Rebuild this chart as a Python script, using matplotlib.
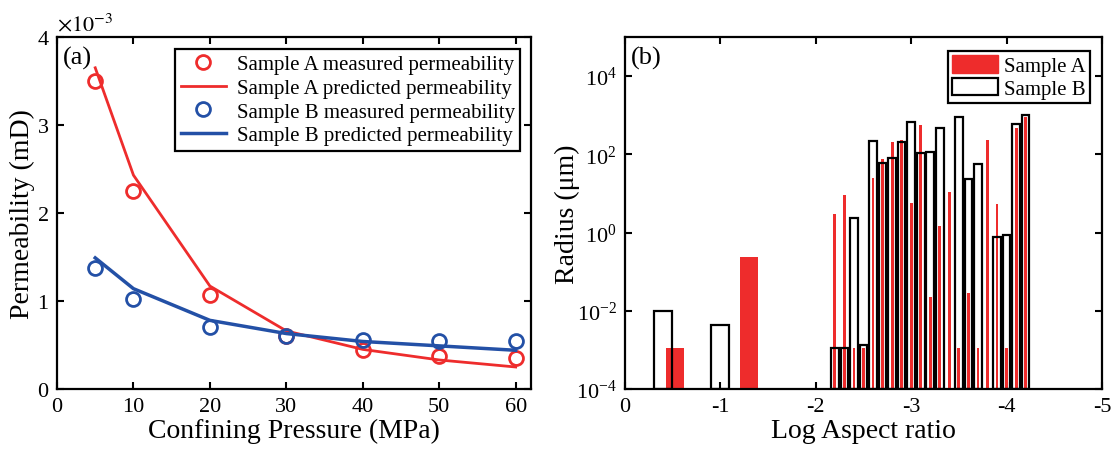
import numpy as np
import matplotlib
matplotlib.use("Agg")
import matplotlib.pyplot as plt
from matplotlib.patches import Patch
from matplotlib.ticker import FixedLocator, LogFormatterSciNotation, NullLocator

plt.rcParams['font.family'] = ['Liberation Serif', 'DejaVu Serif']
plt.rcParams['mathtext.fontset'] = 'stix'
plt.rcParams['axes.unicode_minus'] = False

# ---------------- data: panel (a) ----------------
pressure = [5, 10, 20, 30, 40, 50, 60]                       # MPa
a_measured = [3.50, 2.25, 1.07, 0.60, 0.44, 0.37, 0.35]       # x1e-3 mD
a_predicted = [3.65, 2.43, 1.17, 0.66, 0.45, 0.33, 0.25]
b_measured = [1.37, 1.02, 0.71, 0.60, 0.56, 0.54, 0.54]
b_predicted = [1.49, 1.14, 0.78, 0.63, 0.54, 0.49, 0.44]

# ---------------- data: panel (b) ----------------
# wide bars (small |log aspect ratio|)
a_wide_x = [-0.52, -1.30]
a_wide_r = [1e-3, 0.24]
b_wide_x = [-0.40, -1.00]
b_wide_r = [0.0096, 0.0042]
# narrow bars
a_x = [-2.2, -2.3, -2.4, -2.5, -2.6, -2.7, -2.8, -2.9, -3.0, -3.1, -3.2,
       -3.3, -3.4, -3.5, -3.6, -3.7, -3.8, -3.9, -4.0, -4.1, -4.2]
a_r = [2.9, 9.2, 1e-3, 1e-3, 24.6, 75, 205, 226, 5.6, 565, 0.023,
       1.48, 10.7, 1e-3, 0.028, 1e-3, 234, 5.4, 1e-3, 485, 875]
b_x = [-2.2, -2.3, -2.4, -2.5, -2.6, -2.7, -2.8, -2.9, -3.0, -3.1, -3.2,
       -3.3, -3.5, -3.6, -3.7, -3.9, -4.0, -4.1, -4.2]
b_r = [1e-3, 1e-3, 2.4, 1.2e-3, 214, 59, 80, 205, 665, 107, 115,
       466, 890, 23, 57, 0.79, 0.85, 590, 1020]

RED = '#EE2C2C'
BLUE = '#2350A6'

fig = plt.figure(figsize=(11.19, 4.60), dpi=100)
ax1 = fig.add_axes([57/1119, 1-390/460, (531-57)/1119, (390-38)/460])
ax2 = fig.add_axes([625/1119, 1-390/460, (1102-625)/1119, (390-38)/460])

TICK_FS = 16
LABEL_FS = 20
LEG_FS = 15

# ---------- panel (a) ----------
ax1.plot(pressure, a_measured, 'o', mfc='none', mec=RED, mew=2, ms=10,
         label='Sample A measured permeability')
ax1.plot(pressure, a_predicted, '-', color=RED, lw=2,
         label='Sample A predicted permeability')
ax1.plot(pressure, b_measured, 'o', mfc='none', mec=BLUE, mew=2, ms=10,
         label='Sample B measured permeability')
ax1.plot(pressure, b_predicted, '-', color=BLUE, lw=2.5,
         label='Sample B predicted permeability')
ax1.set_xlim(0, 62)
ax1.set_ylim(0, 4)
ax1.set_xticks([0, 10, 20, 30, 40, 50, 60])
ax1.set_yticks([0, 1, 2, 3, 4])
ax1.set_xlabel('Confining Pressure (MPa)', fontsize=LABEL_FS, labelpad=1)
ax1.set_ylabel('Permeability (mD)', fontsize=LABEL_FS, labelpad=2)
ax1.text(0.0, 1.005, r'$\times10^{-3}$', transform=ax1.transAxes,
         fontsize=TICK_FS, ha='left', va='bottom')
ax1.text(0.012, 0.975, '(a)', transform=ax1.transAxes, fontsize=19,
         ha='left', va='top')
leg1 = ax1.legend(loc='upper right', fontsize=LEG_FS, frameon=True,
                  fancybox=False, edgecolor='black', framealpha=1,
                  handlelength=2.2, borderpad=0.25, labelspacing=0.2,
                  handletextpad=0.5, borderaxespad=0,
                  bbox_to_anchor=(0.977, 0.965))
leg1.get_frame().set_linewidth(1.6)

# ---------- panel (b) ----------
W_WIDE = 0.19
W_A = 0.03
W_B = 0.08
ax2.bar(a_wide_x, a_wide_r, width=W_WIDE, color=RED, bottom=1e-4,
        label='Sample A', zorder=2)
ax2.bar(a_x, a_r, width=W_A, color=RED, bottom=1e-4, zorder=2)
ax2.bar(b_wide_x, b_wide_r, width=W_WIDE, facecolor='none', edgecolor='black',
        linewidth=1.6, bottom=1e-4, zorder=3)
ax2.bar(b_x, b_r, width=W_B, facecolor='none', edgecolor='black',
        linewidth=1.6, bottom=1e-4, zorder=3)
ax2.set_yscale('log')
ax2.set_ylim(1e-4, 1e5)
ax2.set_xlim(0, -5)
ax2.set_xticks([0, -1, -2, -3, -4, -5])
ax2.set_xticklabels(['0', '-1', '-2', '-3', '-4', '-5'])
ax2.yaxis.set_major_locator(FixedLocator([1e-4, 1e-2, 1e0, 1e2, 1e4]))
ax2.yaxis.set_major_formatter(LogFormatterSciNotation())
ax2.yaxis.set_minor_locator(NullLocator())
ax2.set_xlabel('Log Aspect ratio', fontsize=LABEL_FS, labelpad=1)
ax2.set_ylabel('Radius (\u03bcm)', fontsize=LABEL_FS, labelpad=-3)
ax2.text(0.012, 0.975, '(b)', transform=ax2.transAxes, fontsize=19,
         ha='left', va='top')
handles = [Patch(facecolor=RED, edgecolor=RED, label='Sample A'),
           Patch(facecolor='white', edgecolor='black', linewidth=1.6,
                 label='Sample B')]
leg2 = ax2.legend(handles=handles, loc='upper right', fontsize=LEG_FS,
                  frameon=True, fancybox=False, edgecolor='black',
                  framealpha=1, handlelength=2.2, handleheight=0.9,
                  borderpad=0.2, labelspacing=0.1, handletextpad=0.3,
                  borderaxespad=0, bbox_to_anchor=(0.975, 0.96))
leg2.get_frame().set_linewidth(1.6)

for ax in (ax1, ax2):
    ax.tick_params(direction='in', which='both', top=True, right=True,
                   labelsize=TICK_FS, length=5, width=1.5, pad=6)
    for s in ax.spines.values():
        s.set_linewidth(1.6)

fig.savefig('out.png', dpi=100)
